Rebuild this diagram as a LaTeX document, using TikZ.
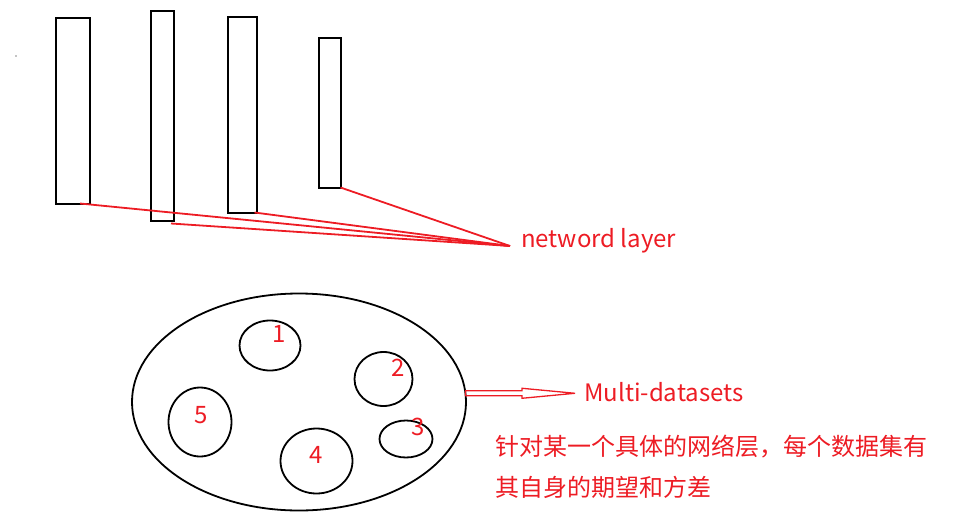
\documentclass[tikz,border=0pt]{standalone}
\usepackage{fontspec}
\setmainfont{Noto Sans CJK SC}
\usetikzlibrary{shapes.geometric,calc}
\definecolor{paintred}{RGB}{237,28,36}

\begin{document}
\begin{tikzpicture}[x=1pt, y=-1pt,
	layer/.style={draw, line width=2pt, inner sep=0pt, outer sep=0pt},
	dset/.style={draw, ellipse, line width=1.8pt, inner sep=0pt, outer sep=0pt},
	redtxt/.style={text=paintred, inner sep=0pt, anchor=base west, align=left, font=\fontsize{24}{41}\selectfont},
	num/.style={text=paintred, inner sep=0pt, anchor=base, font=\fontsize{24}{24}\selectfont},
	redline/.style={paintred, line width=1.8pt}]
	
	\useasboundingbox (0,0) rectangle (957,519);
	
	% Camadas da rede
	\node[layer, minimum width=34, minimum height=185] (l1) at (73,111) {};
	\node[layer, minimum width=23, minimum height=209] (l2) at (162.5,116) {};
	\node[layer, minimum width=29, minimum height=195] (l3) at (242,115) {};
	\node[layer, minimum width=22, minimum height=149] (l4) at (329.5,113) {};
	\fill (16,56) circle (0.7);
	
	% Rotulo das camadas
	\coordinate (hub) at (510,246);
	\node[redtxt] (lay) at (521,247) {netword layer};
	\draw[redline] ($(l1.south)+(7,0)$) -- (hub);
	\draw[redline] ($(l2.south east)+(-3,3)$) -- (hub);
	\draw[redline] ($(l3.south east)+(-2,0)$) -- (hub);
	\draw[redline] (l4.south east) -- (hub);
	
	% Conjunto de dados
	\node[dset, minimum width=334, minimum height=217] (ds) at (299,402) {};
	\node[dset, minimum width=61, minimum height=50] (d1) at (270,345.5) {};
	\node[dset, minimum width=58, minimum height=54] (d2) at (383.5,379) {};
	\node[dset, minimum width=53, minimum height=37] (d3) at (406,439) {};
	\node[dset, minimum width=72, minimum height=65] (d4) at (316.5,461) {};
	\node[dset, minimum width=63, minimum height=69] (d5) at (200,422) {};
	\node[num] at (279,342) {1};
	\node[num] at (398,376) {2};
	\node[num] at (418,435) {3};
	\node[num] at (316,463) {4};
	\node[num] at (201,423) {5};
	
	% Seta para o rotulo
	\node[redtxt] (md) at (584,401) {Multi-datasets};
	\coordinate (tip) at ($(md.west |- ds.3)+(-9,0)$);
	\coordinate (back) at ($(tip)+(-53,0)$);
	\draw[paintred, line width=1.3pt, line join=miter]
		($(ds.3)+(0,-2.5)$) -- ($(back)+(0,-2.5)$) -- ($(back)+(0,-5)$) -- (tip)
		-- ($(back)+(0,5)$) -- ($(back)+(0,2.5)$) -- ($(ds.3)+(0,2.5)$) -- cycle;
	
	% Nota
	\node[redtxt] (note) at (495,496) {针对某一个具体的网络层，每个数据集有\\其自身的期望和方差};
\end{tikzpicture}
\end{document}
